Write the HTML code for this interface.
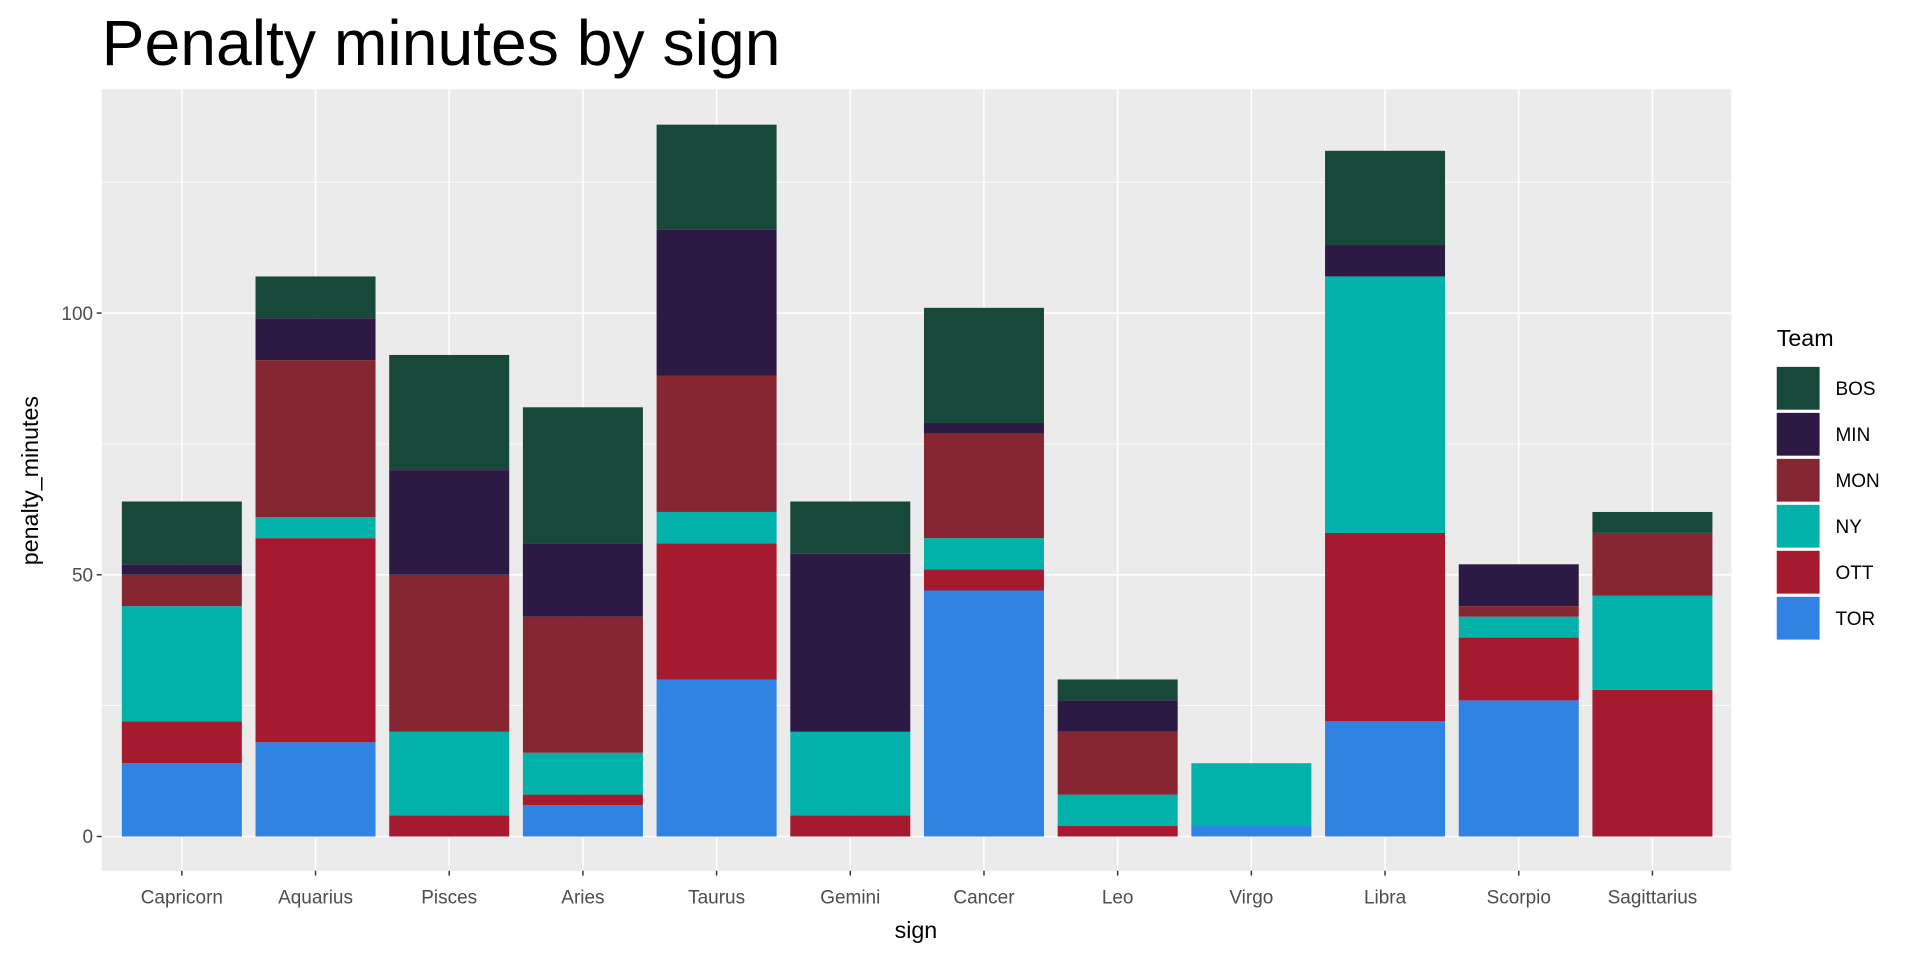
<!DOCTYPE html>
<html><head><meta charset="utf-8"><style>
html,body{margin:0;padding:0;background:#fff;}
svg{display:block;font-family:"Liberation Sans",Arial,sans-serif;}
</style></head><body>
<svg id="c" width="1920" height="960" viewBox="0 0 1568 785" preserveAspectRatio="none" xmlns="http://www.w3.org/2000/svg">
<rect x="0" y="0" width="1568" height="785" fill="#fff"/>
<text x="83" y="53" font-size="52.5" fill="#000">Penalty minutes by sign</text>
<rect x="83" y="73" width="1331" height="639" fill="#EBEBEB"/>
<g id="grid"></g>
<g id="bars"></g>
<g id="axes"></g>
<text x="748" y="767" font-size="19" text-anchor="middle" fill="#000">sign</text>
<text transform="translate(31,393) rotate(-90)" font-size="19" text-anchor="middle" fill="#000">penalty_minutes</text>
<text x="1451" y="283" font-size="19" fill="#000">Team</text>
<g id="legend"></g>
</svg>
<script>
var NS="http://www.w3.org/2000/svg";
function el(p,t,a,txt){var e=document.createElementNS(NS,t);for(var k in a)e.setAttribute(k,a[k]);if(txt!==undefined)e.textContent=txt;document.getElementById(p).appendChild(e);return e;}
function Y(v){return 684-v*4.28;}
var cols={BOS:"#17483A",MIN:"#2C1A45",MON:"#862632",NY:"#02B2AA",OTT:"#A51A2F",TOR:"#3082E3"};
var order=["TOR","OTT","NY","MON","MIN","BOS"];
var signs=["Capricorn","Aquarius","Pisces","Aries","Taurus","Gemini","Cancer","Leo","Virgo","Libra","Scorpio","Sagittarius"];
var data=[
{TOR:14,OTT:8,NY:22,MON:6,MIN:2,BOS:12},
{TOR:18,OTT:39,NY:4,MON:30,MIN:8,BOS:8},
{OTT:4,NY:16,MON:30,MIN:20,BOS:22},
{TOR:6,OTT:2,NY:8,MON:26,MIN:14,BOS:26},
{TOR:30,OTT:26,NY:6,MON:26,MIN:28,BOS:20},
{OTT:4,NY:16,MIN:34,BOS:10},
{TOR:47,OTT:4,NY:6,MON:20,MIN:2,BOS:22},
{OTT:2,NY:6,MON:12,MIN:6,BOS:4},
{TOR:2,NY:12},
{TOR:22,OTT:36,NY:49,MIN:6,BOS:18},
{TOR:26,OTT:12,NY:4,MON:2,MIN:8},
{OTT:28,NY:18,MON:12,BOS:4}];
[25,75,125].forEach(function(v){el("grid","line",{x1:83,x2:1414,y1:Y(v),y2:Y(v),stroke:"#fff","stroke-width":0.6});});
[0,50,100].forEach(function(v){el("grid","line",{x1:83,x2:1414,y1:Y(v),y2:Y(v),stroke:"#fff","stroke-width":1.3});
 el("axes","line",{x1:79,x2:83,y1:Y(v),y2:Y(v),stroke:"#333","stroke-width":1.2});
 el("axes","text",{x:76,y:Y(v)+5.5,"font-size":15.5,"text-anchor":"end",fill:"#4D4D4D"},String(v));});
signs.forEach(function(s,i){var cx=148.5+i*109.18;
 el("grid","line",{x1:cx,x2:cx,y1:73,y2:712,stroke:"#fff","stroke-width":1.3});
 el("axes","line",{x1:cx,x2:cx,y1:712,y2:716,stroke:"#333","stroke-width":1.2});
 el("axes","text",{x:cx,y:739,"font-size":15.5,"text-anchor":"middle",fill:"#4D4D4D"},s);
 var c=0;order.forEach(function(t){var v=data[i][t];if(!v)return;
  el("bars","rect",{x:cx-49,y:Y(c+v),width:98,height:v*4.28,fill:cols[t]});c+=v;});
});
["BOS","MIN","MON","NY","OTT","TOR"].forEach(function(t,i){var y=300+i*37.6;
 el("legend","rect",{x:1451,y:y,width:35,height:35,fill:cols[t]});
 el("legend","text",{x:1499,y:y+23,"font-size":15.5,fill:"#000"},t);});
</script>
</body></html>
